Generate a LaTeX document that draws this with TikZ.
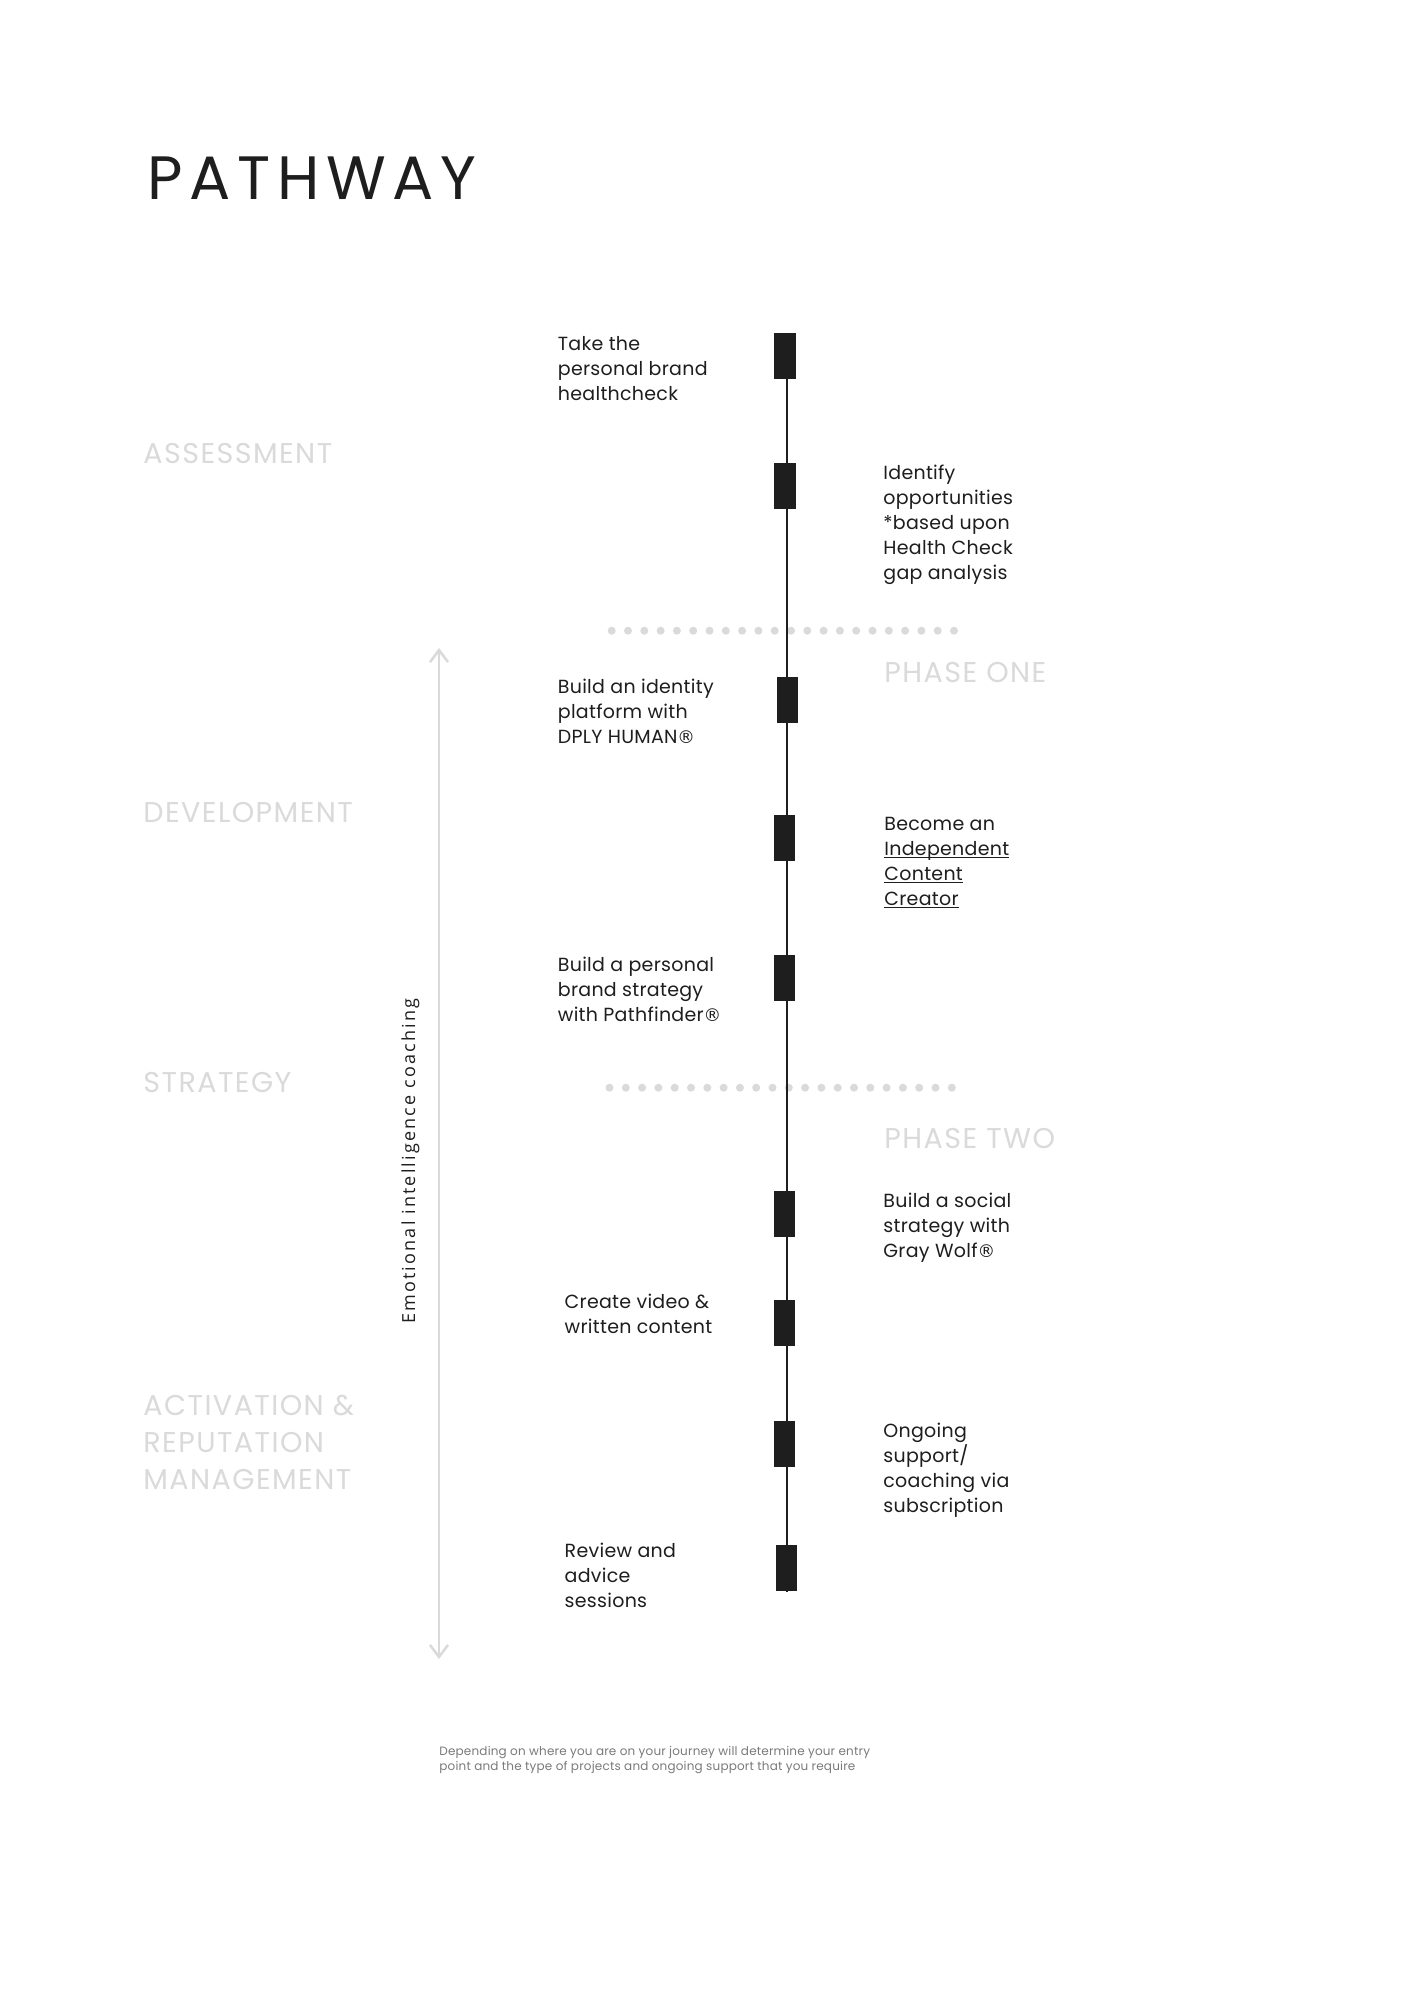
\documentclass[tikz,border=0pt]{standalone}
\usepackage{fontspec}
\setmainfont{Poppins}
\newfontfamily\bodyfont{Poppins}[LetterSpace=1.5]
\newfontfamily\stagefont{Poppins}[LetterSpace=5]
\newfontfamily\titlefont{Poppins}[LetterSpace=11]
\newfontfamily\notefont{Poppins}[LetterSpace=1.5]
\newfontfamily\coachfont{Open Sans}[LetterSpace=12]
\newfontfamily\regfont{DejaVu Sans}
\usetikzlibrary{arrows.meta}
\definecolor{ink}{HTML}{1E1E1E}
\definecolor{pale}{HTML}{DADADA}
\definecolor{note}{HTML}{7A7A7A}
\newcommand\ulword[1]{\leavevmode\setbox0\hbox{#1}\rlap{\vrule height -0.5pt depth 1.4pt width \wd0}\box0}
\newcommand\regmark{{\regfont\fontsize{8.8}{10}\selectfont ®}}
\tikzset{
  bodytext/.style={font=\bodyfont\fontsize{9.5}{12.5}\selectfont, text=ink, align=left, anchor=base west, inner sep=0pt},
  stage/.style={font=\stagefont\fontsize{14.3}{18.5}\selectfont, text=pale, align=left, anchor=base west, inner sep=0pt},
  stepbox/.style={fill=ink, draw=none, minimum width=10.75pt, minimum height=23pt, inner sep=0pt},
  dotrow/.style={fill=pale},
  timeline/.style={draw=ink, line width=1pt},
  coachline/.style={draw=pale, line width=1.25pt, {Straight Barb[length=6pt,width=9pt]}-{Straight Barb[length=6pt,width=9pt]}}
}
\begin{document}
\begin{tikzpicture}[x=0.5pt,y=-0.5pt]
\useasboundingbox[fill=white] (0,0) rectangle (1414,2000);

% title
\node[font=\titlefont\fontsize{30.6}{36}\selectfont, text=ink, anchor=base west, inner sep=0pt] (title) at (147,200) {PATHWAY};

% stage labels (anchor = baseline of last line)
\node[stage] (assess) at (143,463.3) {ASSESSMENT};
\node[stage] (devel) at (143,822.3) {DEVELOPMENT};
\node[stage] (strat) at (143,1092) {STRATEGY};
\node[stage] (activ) at (143,1489) {ACTIVATION \&\\REPUTATION\\MANAGEMENT};
\node[stage] (phone) at (884,682.3) {PHASE ONE};
\node[stage] (phtwo) at (884,1148.3) {PHASE TWO};

% dotted separators
\foreach \i in {0,...,21} {
  \fill[dotrow] (611.7+16.3*\i,630.7) circle[radius=4];
  \fill[dotrow] (609.5+16.3*\i,1087.7) circle[radius=4];
}

% timeline
\coordinate (ltop) at (787,356);
\coordinate (lbot) at (787,1591.5);
\draw[timeline] (ltop) -- (lbot);

% step boxes
\node[stepbox] (b1) at (785,356) {};
\node[stepbox] (b2) at (785,486) {};
\node[stepbox] (b3) at (787.5,700) {};
\node[stepbox] (b4) at (784.5,838) {};
\node[stepbox] (b5) at (784.5,978) {};
\node[stepbox] (b6) at (784.5,1214) {};
\node[stepbox] (b7) at (784.5,1323) {};
\node[stepbox] (b8) at (784.5,1443.5) {};
\node[stepbox] (b9) at (786.7,1568) {};

% step texts (anchor = baseline of last line)
\node[bodytext] (t1) at (557.5,400.5) {Take the\\personal brand\\healthcheck};
\node[bodytext] (t2) at (883,579.5) {Identify\\opportunities\\*based upon\\Health Check\\gap analysis};
\node[bodytext] (t3) at (557.5,743) {Build an identity\\platform with\\DPLY HUMAN\regmark};
\node[bodytext] (t4) at (884,905.5) {Become an\\\ulword{Independent}\\\ulword{Content}\\\ulword{Creator}};
\node[bodytext] (t5) at (557.5,1021) {Build a personal\\brand strategy\\with Pathfinder\regmark};
\node[bodytext] (t6) at (883,1257.3) {Build a social\\strategy with\\Gray Wolf\regmark};
\node[bodytext] (t7) at (564.3,1333.5) {Create video \&\\written content};
\node[bodytext] (t8) at (883,1512) {Ongoing\\support/\\coaching via\\subscription};
\node[bodytext] (t9) at (564.3,1607.5) {Review and\\advice\\sessions};

% coaching arrow
\coordinate (ctop) at (439,648);
\coordinate (cbot) at (439,1659);
\draw[coachline] (cbot) -- (ctop);
\node[font=\coachfont\fontsize{9}{11}\selectfont, text=ink, rotate=90, anchor=base west, inner sep=0pt] (coach) at (415,1324) {Emotional intelligence coaching};

% footer note
\node[font=\notefont\fontsize{6}{7.85}\selectfont, text=note, align=left, anchor=base west, inner sep=0pt] (note) at (439,1770.7) {Depending on where you are on your journey will determine your entry\\point and the type of projects and ongoing support that you require};
\end{tikzpicture}
\end{document}
